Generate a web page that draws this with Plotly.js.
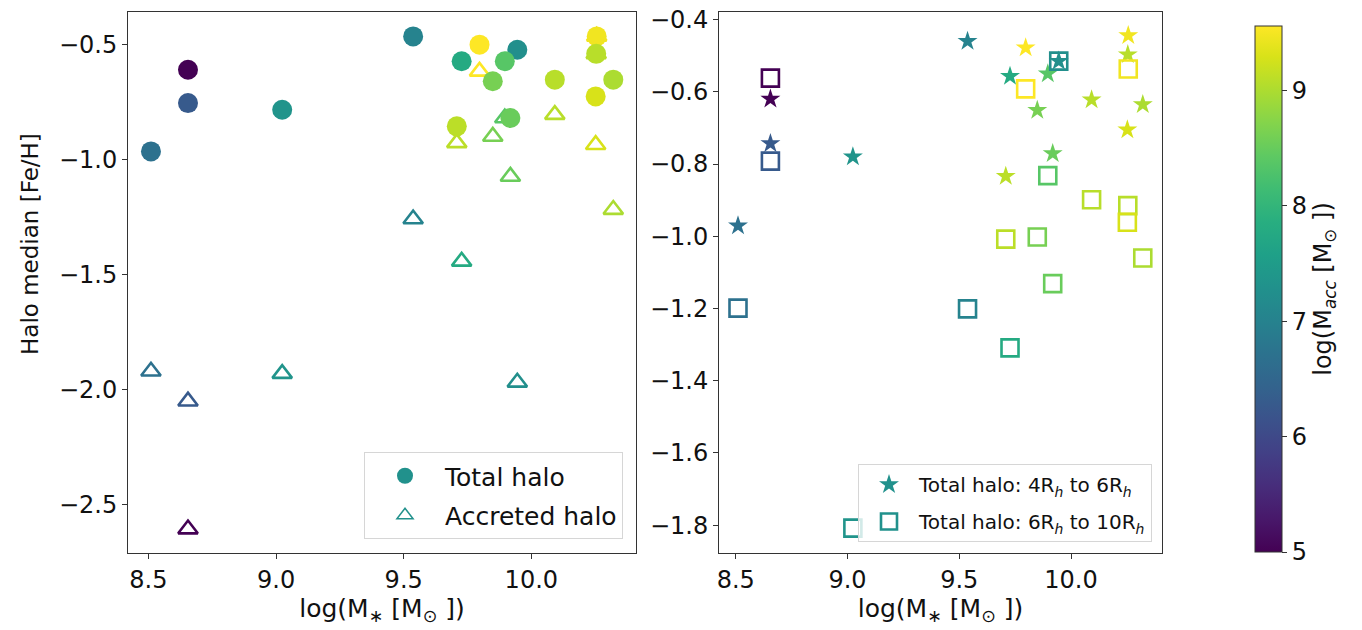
<!DOCTYPE html>
<html>
<head>
<meta charset="utf-8">
<script src="https://cdn.plot.ly/plotly-3.0.1.min.js"></script>
<style>
  html, body { margin: 0; padding: 0; background: #fff; }
  #chart { width: 1362px; height: 630px; }
</style>
</head>
<body>
<div id="chart"></div>
<script>
// ---- data ----
var logMstar = [8.51, 8.655, 8.655, 9.024, 9.537, 9.727, 9.797, 9.945, 9.896, 9.849, 9.708, 9.918, 10.092, 10.256, 10.254, 10.252, 10.321];
var logMacc  = [6.69, 5.0, 6.28, 7.35, 7.02, 7.78, 9.56, 7.25, 8.37, 8.62, 9.1, 8.52, 9.08, 9.47, 9.08, 9.29, 9.0];
var totalHaloFeH    = [-0.964, -0.609, -0.754, -0.783, -0.464, -0.572, -0.500, -0.522, -0.572, -0.659, -0.855, -0.819, -0.652, -0.464, -0.540, -0.725, -0.652];
var accretedHaloFeH = [-1.920, -2.606, -2.050, -1.930, -1.258, -1.442, -0.616, -1.968, -0.819, -0.899, -0.927, -1.073, -0.804, -0.464, -0.540, -0.935, -1.217];
var halo4to6FeH     = [-0.971, -0.620, -0.743, -0.780, -0.460, -0.557, -0.478, -0.515, -0.550, -0.651, -0.834, -0.771, -0.622, -0.444, -0.497, -0.705, -0.635];
var halo6to10FeH    = [-1.199, -0.562, -0.792, -1.808, -1.201, -1.309, -0.592, -0.515, -0.832, -1.002, -1.008, -1.131, -0.899, -0.537, -0.915, -0.961, -1.060];

var xTickVals = [8.5, 9.0, 9.5, 10.0];
var xTickText = ['8.5', '9.0', '9.5', '10.0'];
var cbTickVals = [5, 6, 7, 8, 9];

var legendColor = '#21918c';
var FONT = 'DejaVu Sans, Liberation Sans, sans-serif';
var TXT = '#111';
var TICK = 24;

var traces = [
  // left panel: accreted halo (open triangles), drawn first
  { type: 'scatter', mode: 'markers', x: logMstar, y: accretedHaloFeH, xaxis: 'x', yaxis: 'y',
    showlegend: false,
    marker: { symbol: 'triangle-up-open', size: 17, color: logMacc, coloraxis: 'coloraxis',
              line: { width: 2.6 } } },
  // left panel: total halo (filled circles)
  { type: 'scatter', mode: 'markers', x: logMstar, y: totalHaloFeH, xaxis: 'x', yaxis: 'y',
    showlegend: false,
    marker: { symbol: 'circle', size: 20, color: logMacc, coloraxis: 'coloraxis', line: { width: 0 } } },
  // right panel: stars
  { type: 'scatter', mode: 'markers', x: logMstar, y: halo4to6FeH, xaxis: 'x2', yaxis: 'y2',
    showlegend: false,
    marker: { symbol: 'star', size: 15, color: logMacc, coloraxis: 'coloraxis', line: { width: 0 } } },
  // right panel: open squares
  { type: 'scatter', mode: 'markers', x: logMstar, y: halo6to10FeH, xaxis: 'x2', yaxis: 'y2',
    showlegend: false,
    marker: { symbol: 'square-open', size: 17, color: logMacc, coloraxis: 'coloraxis', line: { width: 2.6 } } },

  // legend entries
  { type: 'scatter', mode: 'markers', x: [null], y: [null], xaxis: 'x', yaxis: 'y',
    name: 'Total halo', legend: 'legend', legendgroup: 'a',
    marker: { symbol: 'circle', size: 16, color: legendColor, line: { width: 0 } } },
  { type: 'scatter', mode: 'markers', x: [null], y: [null], xaxis: 'x', yaxis: 'y',
    name: 'Accreted halo', legend: 'legend', legendgroup: 'b',
    marker: { symbol: 'triangle-up-open', size: 14, color: legendColor, line: { width: 1.5 } } },
  { type: 'scatter', mode: 'markers', x: [null], y: [null], xaxis: 'x2', yaxis: 'y2',
    name: 'Total halo: 4R<sub><i>h</i></sub> to 6R<sub><i>h</i></sub>', legend: 'legend2', legendgroup: 'c',
    marker: { symbol: 'star', size: 15, color: legendColor, line: { width: 0 } } },
  { type: 'scatter', mode: 'markers', x: [null], y: [null], xaxis: 'x2', yaxis: 'y2',
    name: 'Total halo: 6R<sub><i>h</i></sub> to 10R<sub><i>h</i></sub>', legend: 'legend2', legendgroup: 'd',
    marker: { symbol: 'square-open', size: 16, color: legendColor, line: { width: 2.6 } } }
];

var xTitle = 'log(M<sub>∗</sub> [M<sub>⊙</sub> ])';

function xAxis(domain, range) {
  return {
    domain: domain, range: range, showgrid: false, zeroline: false,
    showline: true, mirror: true, linecolor: '#333', linewidth: 1,
    ticks: 'outside', ticklen: 5, tickwidth: 1, tickcolor: '#333',
    tickvals: xTickVals, ticktext: xTickText,
    tickfont: { family: FONT, size: TICK, color: TXT },
    title: { text: xTitle, font: { family: FONT, size: 25, color: TXT }, standoff: 4 }
  };
}
function yAxis(domain, range, dtick, anchor) {
  return {
    domain: domain, range: range, anchor: anchor, showgrid: false, zeroline: false,
    showline: true, mirror: true, linecolor: '#333', linewidth: 1,
    ticks: 'outside', ticklen: 5, tickwidth: 1, tickcolor: '#333',
    tick0: 0, dtick: dtick, tickformat: '.1f',
    tickfont: { family: FONT, size: TICK, color: TXT }
  };
}

var W = 1362, H = 630;
var layout = {
  width: W, height: H,
  margin: { l: 0, r: 0, t: 0, b: 0 },
  paper_bgcolor: '#fff', plot_bgcolor: '#fff',
  font: { family: FONT, color: TXT },
  xaxis: Object.assign(xAxis([128 / W, 636 / W], [8.42, 10.41]), { anchor: 'y' }),
  yaxis: yAxis([1 - 553 / H, 1 - 12 / H], [-2.71, -0.358], 0.5, 'x'),
  xaxis2: Object.assign(xAxis([719 / W, 1162 / W], [8.425, 10.407]), { anchor: 'y2' }),
  yaxis2: yAxis([1 - 553 / H, 1 - 12 / H], [-1.877, -0.379], 0.2, 'x2'),
  coloraxis: {
    colorscale: 'Viridis', cmin: 5.0, cmax: 9.56,
    colorbar: {
      x: 1255 / W, xanchor: 'left', y: 1 - 552 / H, yanchor: 'bottom',
      len: 526 / H, lenmode: 'fraction', thickness: 27, thicknessmode: 'pixels',
      outlinewidth: 1, outlinecolor: '#333',
      ticks: 'outside', ticklen: 5, tickcolor: '#333', tickvals: cbTickVals,
      tickfont: { family: FONT, size: TICK, color: TXT },
      xpad: 0, ypad: 0,
      title: { text: 'log(M<sub><i>acc</i></sub> [M<sub>⊙</sub> ])', side: 'right', font: { family: FONT, size: 24, color: TXT } }
    }
  },
  legend: {
    x: 623 / W, xanchor: 'right', y: 1 - 539 / H, yanchor: 'bottom',
    bgcolor: 'rgba(255,255,255,0.8)', bordercolor: '#d6d6d6', borderwidth: 1,
    font: { family: FONT, size: 25, color: TXT }, tracegroupgap: 4, itemwidth: 70
  },
  legend2: {
    x: 1152 / W, xanchor: 'right', y: 1 - 542 / H, yanchor: 'bottom',
    bgcolor: 'rgba(255,255,255,0.8)', bordercolor: '#d6d6d6', borderwidth: 1,
    font: { family: FONT, size: 20, color: TXT }, tracegroupgap: 8, itemwidth: 50
  },
  annotations: [
    { text: 'Halo median [Fe/H]', xref: 'paper', yref: 'paper', x: 30 / W, y: 1 - 244 / H,
      xanchor: 'center', yanchor: 'middle', textangle: -90, showarrow: false,
      font: { family: FONT, size: 23, color: TXT } }
  ]
};

Plotly.newPlot('chart', traces, layout, { displayModeBar: false, staticPlot: true });
</script>
</body>
</html>
